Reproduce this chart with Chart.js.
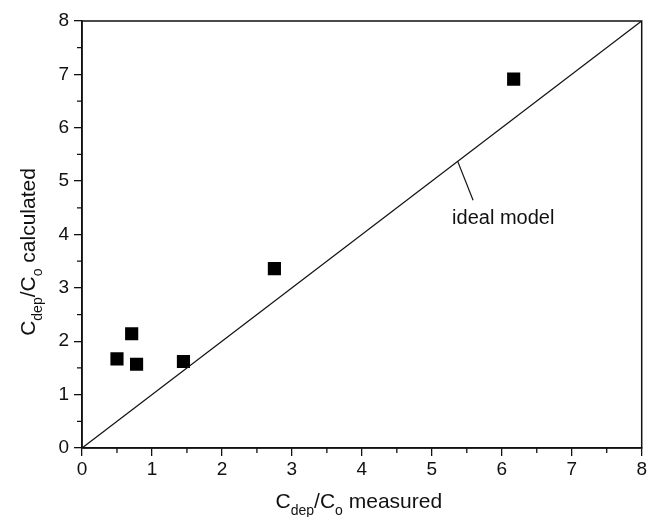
<!DOCTYPE html>
<html lang="en">
<head>
    <meta charset="utf-8" />
    <title>Cdep/Co calculated vs measured</title>
    <script src="https://cdn.jsdelivr.net/npm/chart.js"></script>
    <style>
        body { margin: 0; background: #fff; }
        #wrap { width: 651px; height: 517px; }
    </style>
</head>
<body>
    <div id="wrap"><canvas id="grafico" width="651" height="517"></canvas></div>

    <script>
        // valores
        const medido = [0.50, 0.71, 0.78, 1.45, 2.75, 6.17];
        const calculado = [1.67, 2.14, 1.57, 1.62, 3.36, 6.91];
        const idealX = [0, 8];
        const idealY = [0, 8];
        const setaX = [5.37, 5.59];
        const setaY = [5.37, 4.64];
        const rotuloIdeal = 'ideal model';
        const rotuloPos = [5.29, 4.28];
        const eixoMin = 0, eixoMax = 8;

        const FONTE = '"Liberation Sans", Arial, sans-serif';
        const toPts = (xs, ys) => xs.map((x, i) => ({ x: x, y: ys[i] }));

        // escreve texto com subscritos, partes = [[texto, sub?], ...]
        function larguraPartes(ctx, partes, tam, tamSub) {
            let w = 0;
            partes.forEach(p => {
                ctx.font = (p[1] ? tamSub : tam) + 'px ' + FONTE;
                w += ctx.measureText(p[0]).width;
            });
            return w;
        }
        function desenhaPartes(ctx, partes, x, y, tam, tamSub) {
            partes.forEach(p => {
                ctx.font = (p[1] ? tamSub : tam) + 'px ' + FONTE;
                ctx.fillText(p[0], x, p[1] ? y + 7 : y);
                x += ctx.measureText(p[0]).width;
            });
        }

        const tituloX = [['C', 0], ['dep', 1], ['/C', 0], ['o', 1], [' measured', 0]];
        const tituloY = [['C', 0], ['dep', 1], ['/C', 0], ['o', 1], [' calculated', 0]];

        const extras = {
            id: 'extras',
            afterDraw(chart) {
                const ctx = chart.ctx;
                const a = chart.chartArea;
                const sx = chart.scales.x, sy = chart.scales.y;
                ctx.save();
                // moldura
                ctx.strokeStyle = '#111';
                ctx.lineWidth = 1.5;
                ctx.strokeRect(a.left, a.top, a.right - a.left, a.bottom - a.top);
                // ticks menores
                ctx.lineWidth = 1.3;
                ctx.beginPath();
                for (let v = eixoMin + 0.5; v < eixoMax; v += 1) {
                    const px = sx.getPixelForValue(v);
                    ctx.moveTo(px, a.bottom);
                    ctx.lineTo(px, a.bottom + 5);
                    const py = sy.getPixelForValue(v);
                    ctx.moveTo(a.left, py);
                    ctx.lineTo(a.left - 5, py);
                }
                ctx.stroke();
                // rotulo da linha ideal
                ctx.fillStyle = '#111';
                ctx.textBaseline = 'alphabetic';
                ctx.font = '20px ' + FONTE;
                ctx.fillText(rotuloIdeal, sx.getPixelForValue(rotuloPos[0]), sy.getPixelForValue(rotuloPos[1]) + 4);
                // titulo eixo x
                const wx = larguraPartes(ctx, tituloX, 21, 14);
                desenhaPartes(ctx, tituloX, (a.left + a.right) / 2 - 3 - wx / 2, 508, 21, 14);
                // titulo eixo y
                const wy = larguraPartes(ctx, tituloY, 21, 14);
                ctx.translate(35, 252);
                ctx.rotate(-Math.PI / 2);
                desenhaPartes(ctx, tituloY, -wy / 2, 0, 21, 14);
                ctx.restore();
            }
        };

        const eixo = (fixo) => ({
            type: 'linear',
            min: eixoMin,
            max: eixoMax,
            afterFit: fixo,
            grid: { drawOnChartArea: false, drawTicks: true, tickLength: 8, color: '#111', lineWidth: 1.3 },
            border: { display: true, color: '#111', width: 1.5 },
            ticks: { stepSize: 1, color: '#111', font: { family: FONTE, size: 19 } }
        });

        const escalaX = eixo(s => { s.height = 69; });
        escalaX.ticks.padding = 2;
        escalaX.ticks.maxRotation = 0;
        const escalaY = eixo(s => { s.width = 82; });
        escalaY.ticks.padding = 5;

        new Chart(document.getElementById('grafico').getContext('2d'), {
            type: 'scatter',
            data: {
                datasets: [
                    {
                        label: 'ideal model',
                        type: 'line',
                        data: toPts(idealX, idealY),
                        borderColor: '#111',
                        borderWidth: 1.3,
                        pointRadius: 0,
                        fill: false
                    },
                    {
                        label: 'seta',
                        type: 'line',
                        data: toPts(setaX, setaY),
                        borderColor: '#111',
                        borderWidth: 1.2,
                        pointRadius: 0,
                        fill: false
                    },
                    {
                        label: 'dados',
                        data: toPts(medido, calculado),
                        pointStyle: 'rect',
                        pointRadius: 9.3,
                        pointBackgroundColor: '#000',
                        pointBorderWidth: 0
                    }
                ]
            },
            options: {
                responsive: false,
                animation: false,
                layout: { padding: { left: 0, top: 21, right: 9, bottom: 0 } },
                plugins: { legend: { display: false }, tooltip: { enabled: false } },
                scales: { x: escalaX, y: escalaY }
            },
            plugins: [extras]
        });
    </script>
</body>
</html>
